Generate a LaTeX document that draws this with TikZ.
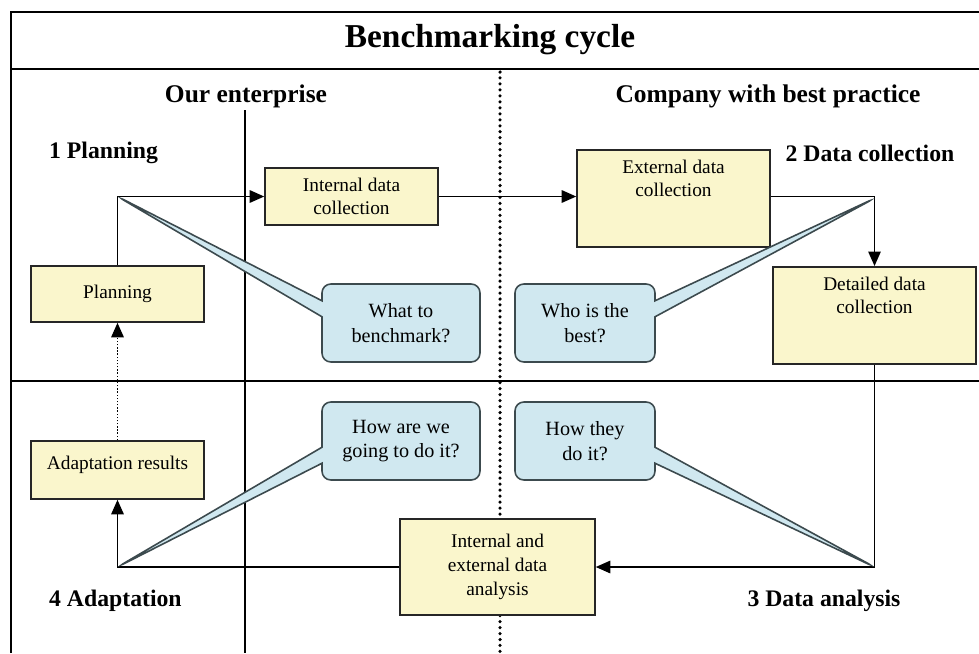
\documentclass[tikz,border=0pt]{standalone}
\usepackage{fontspec}
\setmainfont{Liberation Serif}
\usetikzlibrary{shapes.callouts,arrows.meta,positioning}
\definecolor{boxyellow}{HTML}{FAF6CC}
\definecolor{bubblue}{HTML}{D0E8F0}
\definecolor{bubline}{HTML}{3C4A4E}
\begin{document}
\begin{tikzpicture}[x=0.02cm,y=-0.02cm,
	boxy/.style={draw=black!85,line width=0.9pt,fill=boxyellow,align=center,
		font=\fontsize{11}{13.5}\selectfont,inner sep=0pt},
	bubl/.style={rectangle callout,draw=bubline,line width=0.9pt,fill=bubblue,
		rounded corners=5pt,align=center,callout pointer width=0.32cm,
		font=\fontsize{11.5}{14}\selectfont,inner sep=0pt,
		minimum height=1.56cm},
	flow/.style={line width=0.8pt,-{Triangle[length=2.9mm,width=2.5mm]}},
	stage/.style={font=\fontsize{13.5}{16}\selectfont\bfseries},
	head/.style={font=\fontsize{14.5}{17}\selectfont\bfseries}]
	\useasboundingbox (0,0) rectangle (979,653);
	\draw[line width=1.3pt] (11,653)--(11,12)--(979,12);
	\draw[line width=1.1pt] (11,69)--(979,69);
	\draw[line width=1pt] (11,381)--(979,381);
	\draw[line width=1.5pt] (245,110)--(245,653);
	\draw[line width=2pt,line cap=round,dash pattern=on 0pt off 3.4pt] (500,72)--(500,653);
	\node [font=\fontsize{19}{22}\selectfont\bfseries] (title) at (490,40) {Benchmarking cycle};
	\node [head] (ours) at (246,96) {Our enterprise};
	\node [head] (best) at (768,96) {Company with best practice};
	\node [stage,anchor=west] (s1) at (43,153) {1 Planning};
	\node [stage] (s2) at (870,153) {2 Data collection};
	\node [stage] (s3) at (824,601) {3 Data analysis};
	\node [stage,anchor=west] (s4) at (43,601) {4 Adaptation};
	\node [boxy,minimum width=3.46cm,minimum height=1.12cm] (plan) at (117.5,294) {Planning};
	\node [boxy,minimum width=3.46cm,minimum height=1.14cm] (intl) at (351.5,196.5) {Internal data\\collection};
	\node [boxy,anchor=north,minimum width=3.86cm,inner ysep=0.2cm,text depth=0.8cm] (extl) at (673.5,149) {External data\\collection};
	\node [boxy,anchor=north,minimum width=4.06cm,inner ysep=0.2cm,text depth=0.8cm] (det) at (874.5,266) {Detailed data\\collection};
	\node [boxy,minimum width=3.46cm,minimum height=1.16cm,text depth=0.3cm] (adap) at (117.5,470) {Adaptation results};
	\node [boxy,minimum width=3.9cm,minimum height=1.92cm] (ana) at (497.5,567) {Internal and\\external data\\analysis};
	\coordinate (k1) at (plan.north |- intl.west);
	\coordinate (k2) at (det.north |- extl.east);
	\coordinate (k3) at (det.south |- ana.east);
	\coordinate (k4) at (adap.south |- ana.west);
	\draw[flow] (plan.north) |- (intl.west);
	\draw[flow] (intl.east) -- (intl.east -| extl.west);
	\draw[flow] (extl.east |- intl.east) -| (det.north);
	\draw[flow] (det.south) |- (ana.east);
	\draw[flow] (ana.west) -| (adap.south);
	\draw[flow,densely dotted] (adap.north) -- (plan.south);
	\node [bubl,minimum width=3.16cm,callout absolute pointer=(k1)] (q1) at (401,323) {What to\\benchmark?};
	\node [bubl,minimum width=2.8cm,callout absolute pointer=(k2)] (q2) at (585,323) {Who is the\\best?};
	\node [bubl,minimum width=3.16cm,callout absolute pointer=(k4)] (q3) at (401,441) {How are we\\going to do it?};
	\node [bubl,minimum width=2.8cm,callout absolute pointer=(k3)] (q4) at (585,441) {How they\\do it?};
\end{tikzpicture}
\end{document}
